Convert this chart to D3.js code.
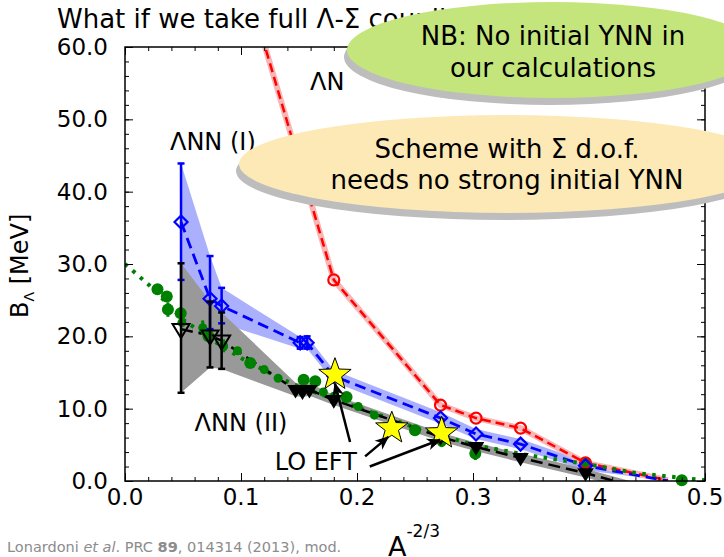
<!DOCTYPE html>
<html>
<head>
<meta charset="utf-8">
<script src="https://cdn.jsdelivr.net/npm/d3@7"></script>
<style>
  html, body { margin: 0; padding: 0; background: #fff; }
  svg { display: block; font-family: "DejaVu Sans", sans-serif; }
</style>
</head>
<body>
<svg id="chart" width="724" height="557"></svg>
<script>
// ---- axis ticks ----
const xTicks = [0.0, 0.1, 0.2, 0.3, 0.4, 0.5];
const yTicks = [0, 10, 20, 30, 40, 50, 60];

// ---- ΛN (red, open circles) ----
const redX = [0.084, 0.180, 0.272, 0.3026, 0.341, 0.397, 0.468];
const redY = [80.0, 27.8, 10.5, 8.7, 7.3, 2.5, 0.1];
const redMarked = [false, true, true, true, true, true, false];

// ---- ΛNN (I) (blue, open diamonds, band = uncertainty) ----
const blueX  = [0.0483, 0.0733, 0.0833, 0.151, 0.157, 0.180, 0.272, 0.3026, 0.341, 0.397, 0.468];
const blueY  = [35.8, 25.2, 24.2, 19.1, 19.1, 14.5, 8.7, 6.5, 5.1, 2.1, 0.0];
const blueHi = [43.9, 31.1, 26.7, 19.9, 20.0, 15.3, 9.5, 7.2, 5.8, 2.7, 0.5];
const blueLo = [27.8, 21.0, 21.8, 18.3, 18.3, 13.7, 7.9, 5.8, 4.4, 1.5, 0.0];
const blueMarked = [true, true, true, true, true, true, true, true, true, true, false];
const blueBars = 5;

// ---- ΛNN (II) (black, down triangles, band = uncertainty) ----
const blackX  = [0.0483, 0.0733, 0.0833, 0.147, 0.153, 0.159, 0.180, 0.272, 0.3026, 0.341, 0.397, 0.48];
const blackY  = [21.0, 20.1, 19.4, 12.6, 12.4, 12.6, 11.2, 6.1, 4.7, 3.2, 1.1, -2.6];
const blackHi = [30.1, 24.8, 23.3, 13.6, 13.4, 13.5, 11.9, 6.7, 5.3, 3.8, 1.7, -2.0];
const blackLo = [12.2, 15.7, 15.5, 11.7, 11.6, 11.8, 10.5, 5.5, 4.1, 2.6, 0.5, -3.2];
const blackMarked = [true, true, true, true, true, true, true, true, true, true, true, false];
const blackBars = 3;

// ---- experimental hypernuclei (green) ----
const expX   = [0.028, 0.036, 0.037, 0.048, 0.049, 0.067, 0.072, 0.085, 0.097, 0.108, 0.120, 0.132,
                0.154, 0.164, 0.171, 0.180, 0.191, 0.201, 0.215, 0.250, 0.273, 0.302, 0.397, 0.480];
const expY   = [26.5, 25.5, 23.7, 23.2, 21.9, 21.2, 20.0, 18.7, 18.0, 16.3, 15.4, 14.2,
                14.0, 13.8, 12.3, 11.7, 11.6, 10.3, 9.1, 7.0, 5.3, 3.8, 2.4, 0.1];
const expErr = [0.5, 0.6, 1.0, 0.8, 0.6, 1.0, 0.7, 0.9, 0.5, 0.5, 0.3, 0.3,
                0.4, 0.3, 0.4, 0.3, 0.3, 0.3, 0.2, 0.3, 0.3, 0.9, 0.3, 0.1];
const expBig = [true, true, true, true, false, false, true, false, false, true, false, false,
                true, true, false, false, true, false, false, true, false, true, true, true];

// ---- empirical fit (green dotted) ----
const fitX = [0.0, 0.02, 0.05, 0.08, 0.10, 0.13, 0.15, 0.18, 0.20, 0.25, 0.30, 0.35, 0.40, 0.44, 0.50];
const fitY = [30.0, 27.2, 22.3, 19.0, 17.0, 14.5, 13.0, 11.4, 10.2, 7.4, 5.0, 3.5, 2.3, 1.1, 0.1];

// ---- LO EFT results (stars) ----
const starX = [0.181, 0.230, 0.273];
const starY = [14.7, 7.3, 6.6];

// ---- annotation arrows (from label towards stars) ----
const arrowFromX = [0.194, 0.207, 0.211];
const arrowFromY = [5.4, 3.4, 2.0];
const arrowToX   = [0.181, 0.227, 0.2716];
const arrowToY   = [13.5, 6.1, 5.7];

// ---- in-plot labels ----
const labelText = ["ΛN", "ΛNN (I)", "ΛNN (II)", "LO EFT"];
const labelX    = [0.1595, 0.0388, 0.060, 0.129];
const labelY    = [54.1, 45.8, 6.9, 1.5];

const svg = d3.select("#chart");
const M = { left: 125, right: 705, top: 47, bottom: 481 };

const x = d3.scaleLinear().domain([0, 0.5]).range([M.left, M.right]);
const y = d3.scaleLinear().domain([0, 60]).range([M.bottom, M.top]);

// title (its tail sits behind the first callout bubble)
svg.append("text")
  .attr("x", 57).attr("y", 28)
  .attr("font-size", 26).attr("fill", "#000")
  .text("What if we take full Λ-Σ coupling?");

svg.append("defs").append("clipPath").attr("id", "plotclip")
  .append("rect")
  .attr("x", M.left).attr("y", M.top)
  .attr("width", M.right - M.left).attr("height", M.bottom - M.top);

const plot = svg.append("g");
const clipped = plot.append("g").attr("clip-path", "url(#plotclip)");

const zip = (xs, ys) => xs.map((v, i) => [v, ys[i]]);
const line = d3.line().x(d => x(d[0])).y(d => y(d[1]));
const area = d3.area().x(d => x(d.x)).y0(d => y(d.lo)).y1(d => y(d.hi));

// uncertainty bands
const bandData = (xs, lo, hi) => xs.map((v, i) => ({ x: v, lo: lo[i], hi: hi[i] }));
clipped.append("path")
  .attr("d", area(bandData(blueX, blueLo, blueHi)))
  .attr("fill", "#aab0fb");
clipped.append("path")
  .attr("d", area(bandData(blackX, blackLo, blackHi)))
  .attr("fill", "#999999");

// ΛN: pale band + dashed line
clipped.append("path")
  .attr("d", line(zip(redX, redY)))
  .attr("fill", "none").attr("stroke", "#f8b6b6").attr("stroke-width", 6);
clipped.append("path")
  .attr("d", line(zip(redX, redY)))
  .attr("fill", "none").attr("stroke", "#ff0000").attr("stroke-width", 2.5)
  .attr("stroke-dasharray", "9,5");

// ΛNN (I) dashed line
clipped.append("path")
  .attr("d", line(zip(blueX, blueY)))
  .attr("fill", "none").attr("stroke", "#0000ff").attr("stroke-width", 2.8)
  .attr("stroke-dasharray", "11,6");

// green empirical fit, dotted
clipped.append("path")
  .attr("d", line(zip(fitX, fitY)))
  .attr("fill", "none").attr("stroke", "#008000").attr("stroke-width", 4)
  .attr("stroke-dasharray", "3.5,6.5");

// ΛNN (II) dashed line
clipped.append("path")
  .attr("d", line(zip(blackX, blackY)))
  .attr("fill", "none").attr("stroke", "#000").attr("stroke-width", 2.5)
  .attr("stroke-dasharray", "12,6");

// experimental points with error bars
const exp = expX.map((v, i) => ({ x: v, y: expY[i], e: expErr[i], big: expBig[i] }));
plot.append("g").selectAll("line").data(exp).join("line")
  .attr("x1", d => x(d.x)).attr("x2", d => x(d.x))
  .attr("y1", d => y(d.y + d.e)).attr("y2", d => y(d.y - d.e))
  .attr("stroke", "#008000").attr("stroke-width", 3);
plot.append("g").selectAll("circle").data(exp).join("circle")
  .attr("cx", d => x(d.x)).attr("cy", d => y(d.y)).attr("r", d => d.big ? 6 : 4.5)
  .attr("fill", "#008000");

// error bars with caps
function errorBars(xs, lo, hi, n, color) {
  const g = plot.append("g").attr("stroke", color).attr("stroke-width", 2.5);
  const d = xs.slice(0, n).map((v, i) => ({ x: v, lo: lo[i], hi: hi[i] }));
  g.selectAll(".v").data(d).join("line").attr("class", "v")
    .attr("x1", e => x(e.x)).attr("x2", e => x(e.x))
    .attr("y1", e => y(e.lo)).attr("y2", e => y(e.hi));
  g.selectAll(".t").data(d).join("line").attr("class", "t")
    .attr("x1", e => x(e.x) - 3.5).attr("x2", e => x(e.x) + 3.5)
    .attr("y1", e => y(e.hi)).attr("y2", e => y(e.hi));
  g.selectAll(".b").data(d).join("line").attr("class", "b")
    .attr("x1", e => x(e.x) - 3.5).attr("x2", e => x(e.x) + 3.5)
    .attr("y1", e => y(e.lo)).attr("y2", e => y(e.lo));
}
errorBars(blueX, blueLo, blueHi, blueBars, "#0000ff");

// ΛN markers
plot.append("g").selectAll("circle")
  .data(zip(redX, redY).filter((d, i) => redMarked[i])).join("circle")
  .attr("cx", d => x(d[0])).attr("cy", d => y(d[1])).attr("r", 5.5)
  .attr("fill", "none").attr("stroke", "#ff0000").attr("stroke-width", 2.2);

// ΛNN (I) diamonds
plot.append("g").selectAll("path")
  .data(zip(blueX, blueY).filter((d, i) => blueMarked[i])).join("path")
  .attr("d", d => {
    const cx = x(d[0]), cy = y(d[1]), r = 6.5;
    return `M${cx},${cy - r}L${cx + r},${cy}L${cx},${cy + r}L${cx - r},${cy}Z`;
  })
  .attr("fill", "none").attr("stroke", "#0000ff").attr("stroke-width", 2.2);

errorBars(blackX, blackLo, blackHi, blackBars, "#000");

// ΛNN (II) triangles: open for the heavy systems, solid for the light ones
plot.append("g").selectAll("path")
  .data(zip(blackX, blackY).map((d, i) => ({ d, i })).filter(o => blackMarked[o.i])).join("path")
  .attr("d", o => {
    const cx = x(o.d[0]), cy = y(o.d[1]), s = o.i < 3 ? 8.5 : 6.5;
    return `M${cx - s},${cy - s * 0.6}L${cx + s},${cy - s * 0.6}L${cx},${cy + s * 1.05}Z`;
  })
  .attr("fill", o => o.i < 3 ? "none" : "#000")
  .attr("stroke", "#000").attr("stroke-width", 2);

// LO EFT stars
const starPath = (cx, cy, R, r) => {
  let p = "";
  for (let k = 0; k < 10; k++) {
    const a = -Math.PI / 2 + k * Math.PI / 5;
    const rr = k % 2 === 0 ? R : r;
    p += (k === 0 ? "M" : "L") + (cx + rr * Math.cos(a)) + "," + (cy + rr * Math.sin(a));
  }
  return p + "Z";
};
plot.append("g").selectAll("path").data(zip(starX, starY)).join("path")
  .attr("d", d => starPath(x(d[0]), y(d[1]), 17, 7))
  .attr("fill", "#ffff00").attr("stroke", "#000").attr("stroke-width", 1);

// arrows
svg.select("defs").append("marker")
  .attr("id", "head").attr("viewBox", "-14 -7 16 14")
  .attr("refX", 0).attr("refY", 0)
  .attr("markerWidth", 16).attr("markerHeight", 14)
  .attr("markerUnits", "userSpaceOnUse")
  .attr("orient", "auto")
  .append("path").attr("d", "M1,0L-13,-6L-9,0L-13,6Z").attr("fill", "#000");
plot.append("g").selectAll("line").data(arrowFromX.map((v, i) => i)).join("line")
  .attr("x1", i => x(arrowFromX[i])).attr("y1", i => y(arrowFromY[i]))
  .attr("x2", i => x(arrowToX[i])).attr("y2", i => y(arrowToY[i]))
  .attr("stroke", "#000").attr("stroke-width", 2.5)
  .attr("marker-end", "url(#head)");

// labels
plot.append("g").selectAll("text").data(labelText).join("text")
  .attr("x", (t, i) => x(labelX[i])).attr("y", (t, i) => y(labelY[i]))
  .attr("font-size", 24).attr("fill", "#000")
  .text(t => t);

// ---- axes (ticks inward on all four sides) ----
const minorX = d3.range(0, 0.5001, 0.02);
const minorY = d3.range(0, 60.001, 2);
function frameAxis(gen, pos, minor, major) {
  const gm = svg.append("g").attr("transform", pos)
    .call(gen(minor).tickSize(-4).tickFormat(""));
  gm.select(".domain").remove();
  const gM = svg.append("g").attr("transform", pos)
    .call(gen(major).tickSize(-8).tickFormat(""));
  gM.select(".domain").remove();
  svg.selectAll(".tick line").attr("stroke", "#000").attr("stroke-width", 1);
}
frameAxis(v => d3.axisBottom(x).tickValues(v), `translate(0,${M.bottom})`, minorX, xTicks);
frameAxis(v => d3.axisTop(x).tickValues(v), `translate(0,${M.top})`, minorX, xTicks);
frameAxis(v => d3.axisLeft(y).tickValues(v), `translate(${M.left},0)`, minorY, yTicks);
frameAxis(v => d3.axisRight(y).tickValues(v), `translate(${M.right},0)`, minorY, yTicks);

svg.append("rect")
  .attr("x", M.left).attr("y", M.top)
  .attr("width", M.right - M.left).attr("height", M.bottom - M.top)
  .attr("fill", "none").attr("stroke", "#000").attr("stroke-width", 1.5);

// tick labels
svg.append("g").selectAll("text").data(xTicks).join("text")
  .attr("x", d => x(d)).attr("y", M.bottom + 24)
  .attr("text-anchor", "middle").attr("font-size", 23)
  .text(d3.format(".1f"));
svg.append("g").selectAll("text").data(yTicks).join("text")
  .attr("x", 108).attr("y", d => y(d) + 8)
  .attr("text-anchor", "end").attr("font-size", 23)
  .text(d3.format(".1f"));

// axis titles
const xt = svg.append("text").attr("x", 388).attr("y", 556).attr("font-size", 27);
xt.append("tspan").text("A");
xt.append("tspan").attr("dy", -19).attr("font-size", 17).text("-2/3");

const yt = svg.append("text")
  .attr("transform", "translate(28,318) rotate(-90)")
  .attr("font-size", 24);
yt.append("tspan").text("B");
yt.append("tspan").attr("dy", 6).attr("font-size", 14).text("Λ");
yt.append("tspan").attr("dy", -6).text(" [MeV]");

// source line
const src = svg.append("text").attr("x", 7).attr("y", 552)
  .attr("font-size", 14.5).attr("fill", "#8c8c8c");
src.append("tspan").text("Lonardoni ");
src.append("tspan").attr("font-style", "italic").text("et al");
src.append("tspan").text(". PRC ");
src.append("tspan").attr("font-weight", "bold").text("89");
src.append("tspan").text(", 014314 (2013), mod.");

// ---- callout bubbles ----
function bubble(cx, cy, rx, ry, fill, lines, y0, dy) {
  const g = svg.append("g");
  g.append("ellipse").attr("cx", cx - 3).attr("cy", cy + 7).attr("rx", rx).attr("ry", ry)
    .attr("fill", "#bdbdbd");
  g.append("ellipse").attr("cx", cx).attr("cy", cy).attr("rx", rx).attr("ry", ry)
    .attr("fill", fill);
  g.selectAll("text").data(lines).join("text")
    .attr("x", cx).attr("y", (t, i) => y0 + i * dy)
    .attr("text-anchor", "middle").attr("font-size", 26).attr("fill", "#000")
    .text(t => t);
}
bubble(553, 50, 206, 48, "#c4e57c", ["NB: No initial YNN in", "our calculations"], 45, 32);
bubble(507, 164, 268, 49, "#fde9b6", ["Scheme with Σ d.o.f.", "needs no strong initial YNN"], 158, 31);
</script>
</body>
</html>
